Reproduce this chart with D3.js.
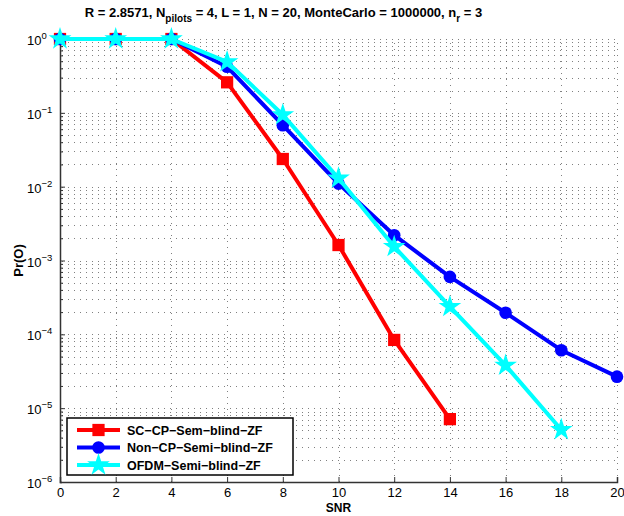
<!DOCTYPE html>
<html>
<head>
<meta charset="utf-8">
<script src="https://cdn.jsdelivr.net/npm/d3@7"></script>
<style>
  body { margin: 0; background: #fff; }
  svg { font-family: "Liberation Sans", Arial, Helvetica, sans-serif; }
  .grid line { stroke: #555; stroke-width: 1; stroke-dasharray: 1,5; stroke-opacity: 0.75; }
</style>
</head>
<body>
<script>

    // data
    var snr = [0, 2, 4, 6, 8, 10, 12, 14, 16, 18, 20];
    var scCP   = [1, 1, 1, 0.259, 0.0237, 0.00162, 0.000084, 0.0000071];
    var nonCP  = [1, 1, 1, 0.42, 0.068, 0.011, 0.0022, 0.0006, 0.000196, 0.000061, 0.0000267];
    var ofdm   = [1, 1, 1, 0.49, 0.094, 0.013, 0.00154, 0.000237, 0.000038, 0.0000051];
    var xTicks = [0, 2, 4, 6, 8, 10, 12, 14, 16, 18, 20];
    var yExps  = [0, -1, -2, -3, -4, -5, -6];
    var legendNames = ["SC\u2212CP\u2212Sem\u2212blind\u2212ZF", "Non\u2212CP\u2212Semi\u2212blind\u2212ZF", "OFDM\u2212Semi\u2212blind\u2212ZF"];

    var width = 624, height = 516;
    var margin = {left: 60, right: 7, top: 39, bottom: 34};

    var svg = d3.select("body").append("svg")
        .attr("width", width)
        .attr("height", height);

    var x = d3.scaleLinear().domain([0, 20]).range([margin.left, width - margin.right]);
    var y = d3.scaleLog().domain([1e-6, 1]).range([height - margin.bottom, margin.top]);

    // grid
    var minorVals = [];
    for (var e = -6; e < 0; e++) {
        for (var m = 1; m < 10; m++) minorVals.push(m * Math.pow(10, e));
    }
    minorVals.push(1);

    var grid = svg.append("g").attr("class", "grid");
    grid.selectAll("line.h").data(minorVals).enter().append("line")
        .attr("x1", x(0) + 2).attr("x2", x(20))
        .attr("y1", function (d) { return Math.round(y(d)) + 0.5; })
        .attr("y2", function (d) { return Math.round(y(d)) + 0.5; });
    grid.selectAll("line.v").data(xTicks.slice(1)).enter().append("line")
        .attr("y1", y(1e-6)).attr("y2", y(1))
        .attr("x1", function (d) { return Math.round(x(d)) + 0.5; })
        .attr("x2", function (d) { return Math.round(x(d)) + 0.5; });

    // axes
    var xAxis = d3.axisBottom(x).tickValues(xTicks).tickSize(-5).tickPadding(6).tickFormat(d3.format("d"));
    var gx = svg.append("g").attr("transform", "translate(0," + y(1e-6) + ")").call(xAxis);
    gx.select(".domain").attr("stroke", "#333").attr("stroke-width", 1.5);
    gx.selectAll(".tick line").attr("stroke", "#333");
    gx.selectAll(".tick text").attr("font-size", 13).attr("fill", "#000")
        .attr("font-family", "Liberation Sans, Arial, sans-serif");

    var yAxis = d3.axisLeft(y).tickValues(minorVals).tickSize(-2).tickFormat("");
    var gy = svg.append("g").attr("transform", "translate(" + x(0) + ",0)").call(yAxis);
    gy.select(".domain").attr("stroke", "#333").attr("stroke-width", 1.5);
    gy.selectAll(".tick line").attr("stroke", "#333")
        .attr("x2", function (d) { return Math.abs(Math.log10(d) - Math.round(Math.log10(d))) < 1e-9 ? 5 : 3; });

    var yl = svg.append("g").selectAll("text").data(yExps).enter().append("text")
        .attr("x", 27)
        .attr("y", function (d) { return y(Math.pow(10, d)) + 6; })
        .attr("font-size", 13);
    yl.append("tspan").text("10");
    yl.append("tspan").attr("dy", -6).attr("font-size", 9.5)
        .text(function (d) { return d === 0 ? "0" : "\u2212" + (-d); });

    // series
    var series = [
        {vals: scCP, color: "#ff0000", sym: d3.symbolSquare, size: 150},
        {vals: nonCP, color: "#0000ff", sym: d3.symbolCircle, size: 125},
        {vals: ofdm, color: "#00ffff", sym: d3.symbolStar, size: 160}
    ];

    var line = d3.line()
        .x(function (d, i) { return x(snr[i]); })
        .y(function (d) { return y(d); });

    series.forEach(function (s) {
        var g = svg.append("g");
        g.append("path").attr("d", line(s.vals))
            .attr("fill", "none").attr("stroke", s.color).attr("stroke-width", 4)
            .attr("stroke-linejoin", "round");
        g.selectAll("path.mk").data(s.vals).enter().append("path")
            .attr("d", d3.symbol().type(s.sym).size(s.size))
            .attr("transform", function (d, i) { return "translate(" + x(snr[i]) + "," + y(d) + ")"; })
            .attr("fill", s.color);
    });

    // legend
    var leg = svg.append("g").attr("transform", "translate(67,418)");
    leg.append("rect").attr("width", 226).attr("height", 57)
        .attr("fill", "#fff").attr("stroke", "#000").attr("stroke-width", 1.5);
    series.forEach(function (s, i) {
        var ly = 12 + i * 17.5;
        leg.append("line").attr("x1", 10).attr("x2", 53).attr("y1", ly).attr("y2", ly)
            .attr("stroke", s.color).attr("stroke-width", 4);
        leg.append("path").attr("d", d3.symbol().type(s.sym).size(s.size))
            .attr("transform", "translate(31.5," + ly + ")").attr("fill", s.color);
        leg.append("text").attr("x", 60).attr("y", ly + 4.5)
            .attr("font-size", 12.5).attr("font-weight", "bold").text(legendNames[i]);
    });

    // title and labels
    var title = svg.append("text").attr("x", (x(0) + x(20)) / 2 - 55).attr("y", 17)
        .attr("text-anchor", "middle").attr("font-size", 13).attr("font-weight", "bold");
    title.append("tspan").text("R = 2.8571, N");
    title.append("tspan").attr("dy", 5).attr("font-size", 10).text("pilots");
    title.append("tspan").attr("dy", -5).text(" = 4, L = 1, N = 20, MonteCarlo = 1000000, n");
    title.append("tspan").attr("dy", 5).attr("font-size", 10).text("r");
    title.append("tspan").attr("dy", -5).text(" = 3");

    svg.append("text").attr("x", x(10)).attr("y", 512)
        .attr("text-anchor", "middle").attr("font-size", 12).attr("font-weight", "bold").text("SNR");

    svg.append("text").attr("transform", "translate(23," + ((y(1) + y(1e-6)) / 2) + ") rotate(-90)")
        .attr("text-anchor", "middle").attr("font-size", 13).attr("font-weight", "bold").text("Pr(O)");

</script>
</body>
</html>
